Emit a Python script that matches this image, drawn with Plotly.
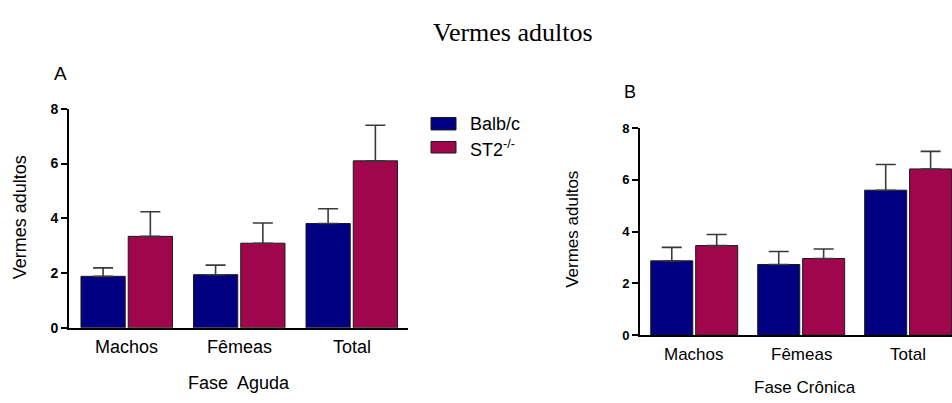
import plotly.graph_objects as go

W, H = 952, 403

# Data: adult worms recovered, mean and upper SEM
categories = ["Machos", "Fêmeas", "Total"]
groups = ["Balb/c", "ST2<sup>-/-</sup>"]
colors = ["#000080", "#A0064C"]

aguda_balb = [1.88, 1.94, 3.81]
aguda_balb_err = [0.31, 0.35, 0.54]
aguda_st2 = [3.34, 3.09, 6.10]
aguda_st2_err = [0.90, 0.74, 1.30]

cronica_balb = [2.87, 2.73, 5.60]
cronica_balb_err = [0.52, 0.50, 0.99]
cronica_st2 = [3.46, 2.96, 6.42]
cronica_st2_err = [0.43, 0.37, 0.68]

yticks = [0, 2, 4, 6, 8]
ytick_text = ["<b>%d</b>" % v for v in yticks]


def px(x):
    return x / W


def py(y):
    return 1 - y / H


fig = go.Figure()

BAR_OFF = 0.21  # half distance between paired bar centres (category units)


def add_panel(xa, ya, vals_list, errs_list):
    xs = list(range(len(categories)))
    for k, (vals, errs) in enumerate(zip(vals_list, errs_list)):
        fig.add_trace(go.Bar(
            x=xs, y=vals,
            xaxis=xa, yaxis=ya,
            offsetgroup=str(k),
            marker=dict(color=colors[k], line=dict(color="#1a1a1a", width=1)),
            error_y=dict(type="data", array=errs, arrayminus=[0] * len(errs),
                         symmetric=False, color="#3a3a3a", thickness=1.6, width=10),
            showlegend=False,
            hoverinfo="skip",
        ))


add_panel("x", "y", [aguda_balb, aguda_st2], [aguda_balb_err, aguda_st2_err])
add_panel("x2", "y2", [cronica_balb, cronica_st2], [cronica_balb_err, cronica_st2_err])

bar_centres = [i + s * BAR_OFF for i in range(len(categories)) for s in (-1, 1)]

rangeA = [-0.513, 2.5]
rangeB = [-0.507, 2.41]
domA_x = [px(69), px(408)]
domA_y = [py(333), py(105)]
domB_x = [px(640), 1.0]
domB_y = [py(340.7), py(125)]

axis_common = dict(showline=True, linecolor="black", linewidth=2, showgrid=False,
                   zeroline=False, mirror=False)
tick_common = dict(ticks="outside", ticklen=6, tickwidth=2, tickcolor="black")

fig.update_layout(
    width=W, height=H,
    margin=dict(l=0, r=0, t=0, b=0),
    paper_bgcolor="white", plot_bgcolor="white",
    barmode="group", bargap=0.16, bargroupgap=0.064,
    font=dict(family="Arial, Liberation Sans, sans-serif", color="black"),
    xaxis=dict(domain=domA_x, anchor="y", range=rangeA, showticklabels=False,
               ticks="", **axis_common),
    yaxis=dict(domain=domA_y, anchor="x", range=[0, 8], tickvals=yticks,
               ticktext=ytick_text, tickfont=dict(size=14, color="black"),
               **tick_common, **axis_common),
    xaxis3=dict(domain=domA_x, anchor="y", overlaying="x", range=rangeA,
                tickvals=bar_centres, showticklabels=False, showline=False,
                showgrid=False, zeroline=False, **tick_common),
    xaxis2=dict(domain=domB_x, anchor="y2", range=rangeB, showticklabels=False,
                ticks="", **axis_common),
    yaxis2=dict(domain=domB_y, anchor="x2", range=[0, 8], tickvals=yticks,
                ticktext=ytick_text, tickfont=dict(size=13, color="black"),
                **tick_common, **axis_common),
    xaxis4=dict(domain=domB_x, anchor="y2", overlaying="x2", range=rangeB,
                tickvals=bar_centres, showticklabels=False, showline=False,
                showgrid=False, zeroline=False, **tick_common),
)

ann = []
# main title
ann.append(dict(text="Vermes adultos", x=px(513), y=py(25), xref="paper", yref="paper",
                showarrow=False, xanchor="center", yanchor="middle",
                font=dict(family="Liberation Serif, Times New Roman, serif", size=26)))
# panel letters
ann.append(dict(text="A", x=px(60), y=py(68), xref="paper", yref="paper", showarrow=False,
                xanchor="center", yanchor="middle", font=dict(size=19)))
ann.append(dict(text="B", x=px(630), y=py(87), xref="paper", yref="paper", showarrow=False,
                xanchor="center", yanchor="middle", font=dict(size=18)))
# y titles
ann.append(dict(text="Vermes adultos", x=px(20), y=py(218), xref="paper", yref="paper",
                showarrow=False, textangle=-90, xanchor="center", yanchor="middle",
                font=dict(size=18)))
ann.append(dict(text="Vermes adultos", x=px(573), y=py(231), xref="paper", yref="paper",
                showarrow=False, textangle=-90, xanchor="center", yanchor="middle",
                font=dict(size=17)))
# category labels
for i, c in enumerate(categories):
    ann.append(dict(text=c, x=i, y=py(353), xref="x", yref="paper", showarrow=False,
                    xanchor="center", yanchor="middle", font=dict(size=18)))
    ann.append(dict(text=c, x=i, y=py(361), xref="x2", yref="paper", showarrow=False,
                    xanchor="center", yanchor="middle", font=dict(size=17)))
# x titles
ann.append(dict(text="Fase  Aguda", x=px(239), y=py(391), xref="paper", yref="paper",
                showarrow=False, xanchor="center", yanchor="middle", font=dict(size=18)))
ann.append(dict(text="Fase Crônica", x=px(805), y=py(395), xref="paper", yref="paper",
                showarrow=False, xanchor="center", yanchor="middle", font=dict(size=17)))

# legend
shapes = []
leg_rows = [(114, 127, 121), (139, 151, 146)]
for k, (y0, y1, yt) in enumerate(leg_rows):
    shapes.append(dict(type="rect", xref="paper", yref="paper",
                       x0=px(431), x1=px(456), y0=py(y1), y1=py(y0),
                       fillcolor=colors[k], line=dict(color="#1a1a1a", width=1)))
    ann.append(dict(text=groups[k], x=px(468), y=py(yt), xref="paper", yref="paper",
                    showarrow=False, xanchor="left", yanchor="middle", font=dict(size=18)))

fig.update_layout(annotations=ann, shapes=shapes)

fig.write_html("out.html")
